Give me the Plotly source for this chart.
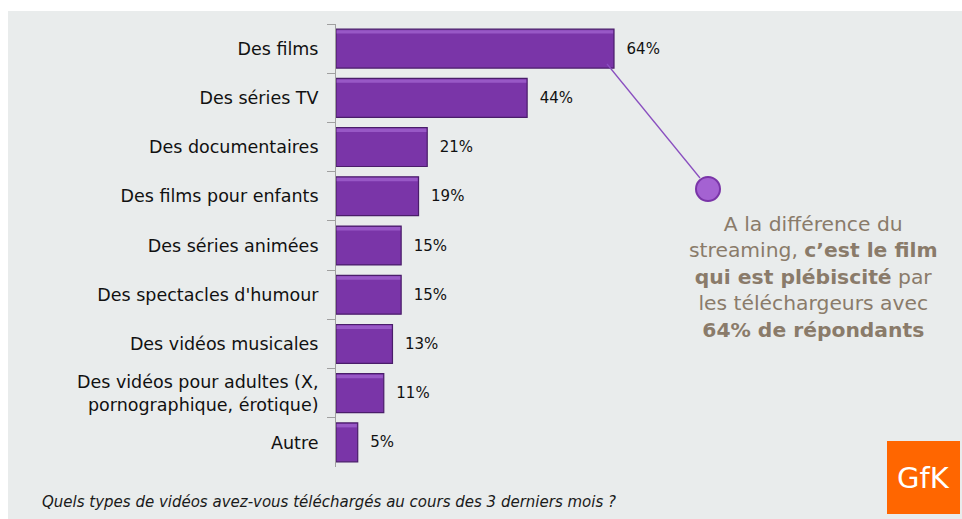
import plotly.graph_objects as go

categories = [
    "Des films",
    "Des séries TV",
    "Des documentaires",
    "Des films pour enfants",
    "Des séries animées",
    "Des spectacles d'humour",
    "Des vidéos musicales",
    "Des vidéos pour adultes (X,<br>pornographique, érotique)",
    "Autre",
]
values = [64, 44, 21, 19, 15, 15, 13, 11, 5]
labels = [f"\u00a0\u00a0{v}%" for v in values]

question = "Quels types de vidéos avez-vous téléchargés au cours des 3 derniers mois ?"
callout = (
    "A la différence du<br>streaming, <b>c’est le film</b><br>"
    "<b>qui est plébiscité</b> par<br>les téléchargeurs avec<br>"
    "<b>64% de répondants</b>"
)

W, H = 962, 519
left, top, bottom = 336, 24, 519 - 467
right = 20
plot_w = W - left - right
plot_h = H - top - bottom
px_per_pct = 278 / 64
x_max = plot_w / px_per_pct


def fx(px):
    # window pixel x -> paper x
    return (px - left) / plot_w


def fy(py):
    # window pixel y -> paper y
    return 1 - (py - top) / plot_h


fig = go.Figure()
fig.add_trace(
    go.Bar(
        x=values,
        y=categories,
        orientation="h",
        marker=dict(color="#7A35A8", line=dict(color="#4A1D6A", width=1.2)),
        text=labels,
        textposition="outside",
        textfont=dict(family="DejaVu Sans", size=15, color="#111111"),
        cliponaxis=False,
        width=0.79,
        showlegend=False,
    )
)
# light bevel along the top of each bar
fig.add_trace(
    go.Bar(
        x=[v - 0.35 for v in values],
        y=categories,
        orientation="h",
        base=0.15,
        marker=dict(color="#9858C6", line=dict(width=0)),
        width=0.07,
        offset=-0.375,
        hoverinfo="skip",
        showlegend=False,
    )
)

# callout line + circle
fig.add_shape(
    type="line", xref="paper", yref="paper",
    x0=fx(607), y0=fy(64), x1=fx(700), y1=fy(178),
    line=dict(color="#8A4FC0", width=1.3),
)
fig.add_shape(
    type="circle", xref="paper", yref="paper",
    x0=fx(696), x1=fx(720), y0=fy(201), y1=fy(177),
    fillcolor="#A462D2", line=dict(color="#7A35A8", width=2),
)

# background panel
fig.add_shape(
    type="rect", xref="paper", yref="paper", layer="below",
    x0=fx(8), x1=fx(970), y0=fy(530), y1=fy(11),
    fillcolor="#E9ECEC", line=dict(width=0),
)

# GfK logo
fig.add_shape(
    type="rect", xref="paper", yref="paper",
    x0=fx(887), x1=fx(960), y0=fy(514), y1=fy(441),
    fillcolor="#FF6600", line=dict(width=0),
)
fig.add_annotation(
    xref="paper", yref="paper", x=fx(923.5), y=fy(478),
    xanchor="center", yanchor="middle",
    text="GfK", showarrow=False,
    font=dict(family="DejaVu Sans", size=29, color="white"),
)

fig.add_annotation(
    xref="paper", yref="paper", x=fx(813), y=fy(277),
    xanchor="center", yanchor="middle",
    text=callout, showarrow=False, align="center",
    font=dict(family="DejaVu Sans", size=20.3, color="#8A7B6A"),
)

fig.add_annotation(
    xref="paper", yref="paper", x=fx(40), y=fy(502),
    xanchor="left", yanchor="middle",
    text=f"<i>{question}</i>", showarrow=False,
    font=dict(family="DejaVu Sans", size=15, color="#1A1A1A"),
)

fig.update_layout(
    width=W, height=H,
    margin=dict(l=left, r=right, t=top, b=bottom),
    paper_bgcolor="white",
    plot_bgcolor="rgba(0,0,0,0)",
    barmode="overlay",
    xaxis=dict(range=[0, x_max], visible=False, fixedrange=True),
    yaxis=dict(
        autorange="reversed",
        showline=True, linecolor="#A0A0A0", linewidth=1,
        ticks="outside", tickson="boundaries", ticklen=8, tickcolor="#A0A0A0",
        tickfont=dict(family="DejaVu Sans", size=17.5, color="#111111"),
        ticklabelstandoff=13,
        showgrid=False,
    ),
)

# drop the default body margin so the figure sits at the window's top-left
fig.write_html(
    "out.html",
    config={"displayModeBar": False},
    post_script="document.body.style.margin='0px';",
)
